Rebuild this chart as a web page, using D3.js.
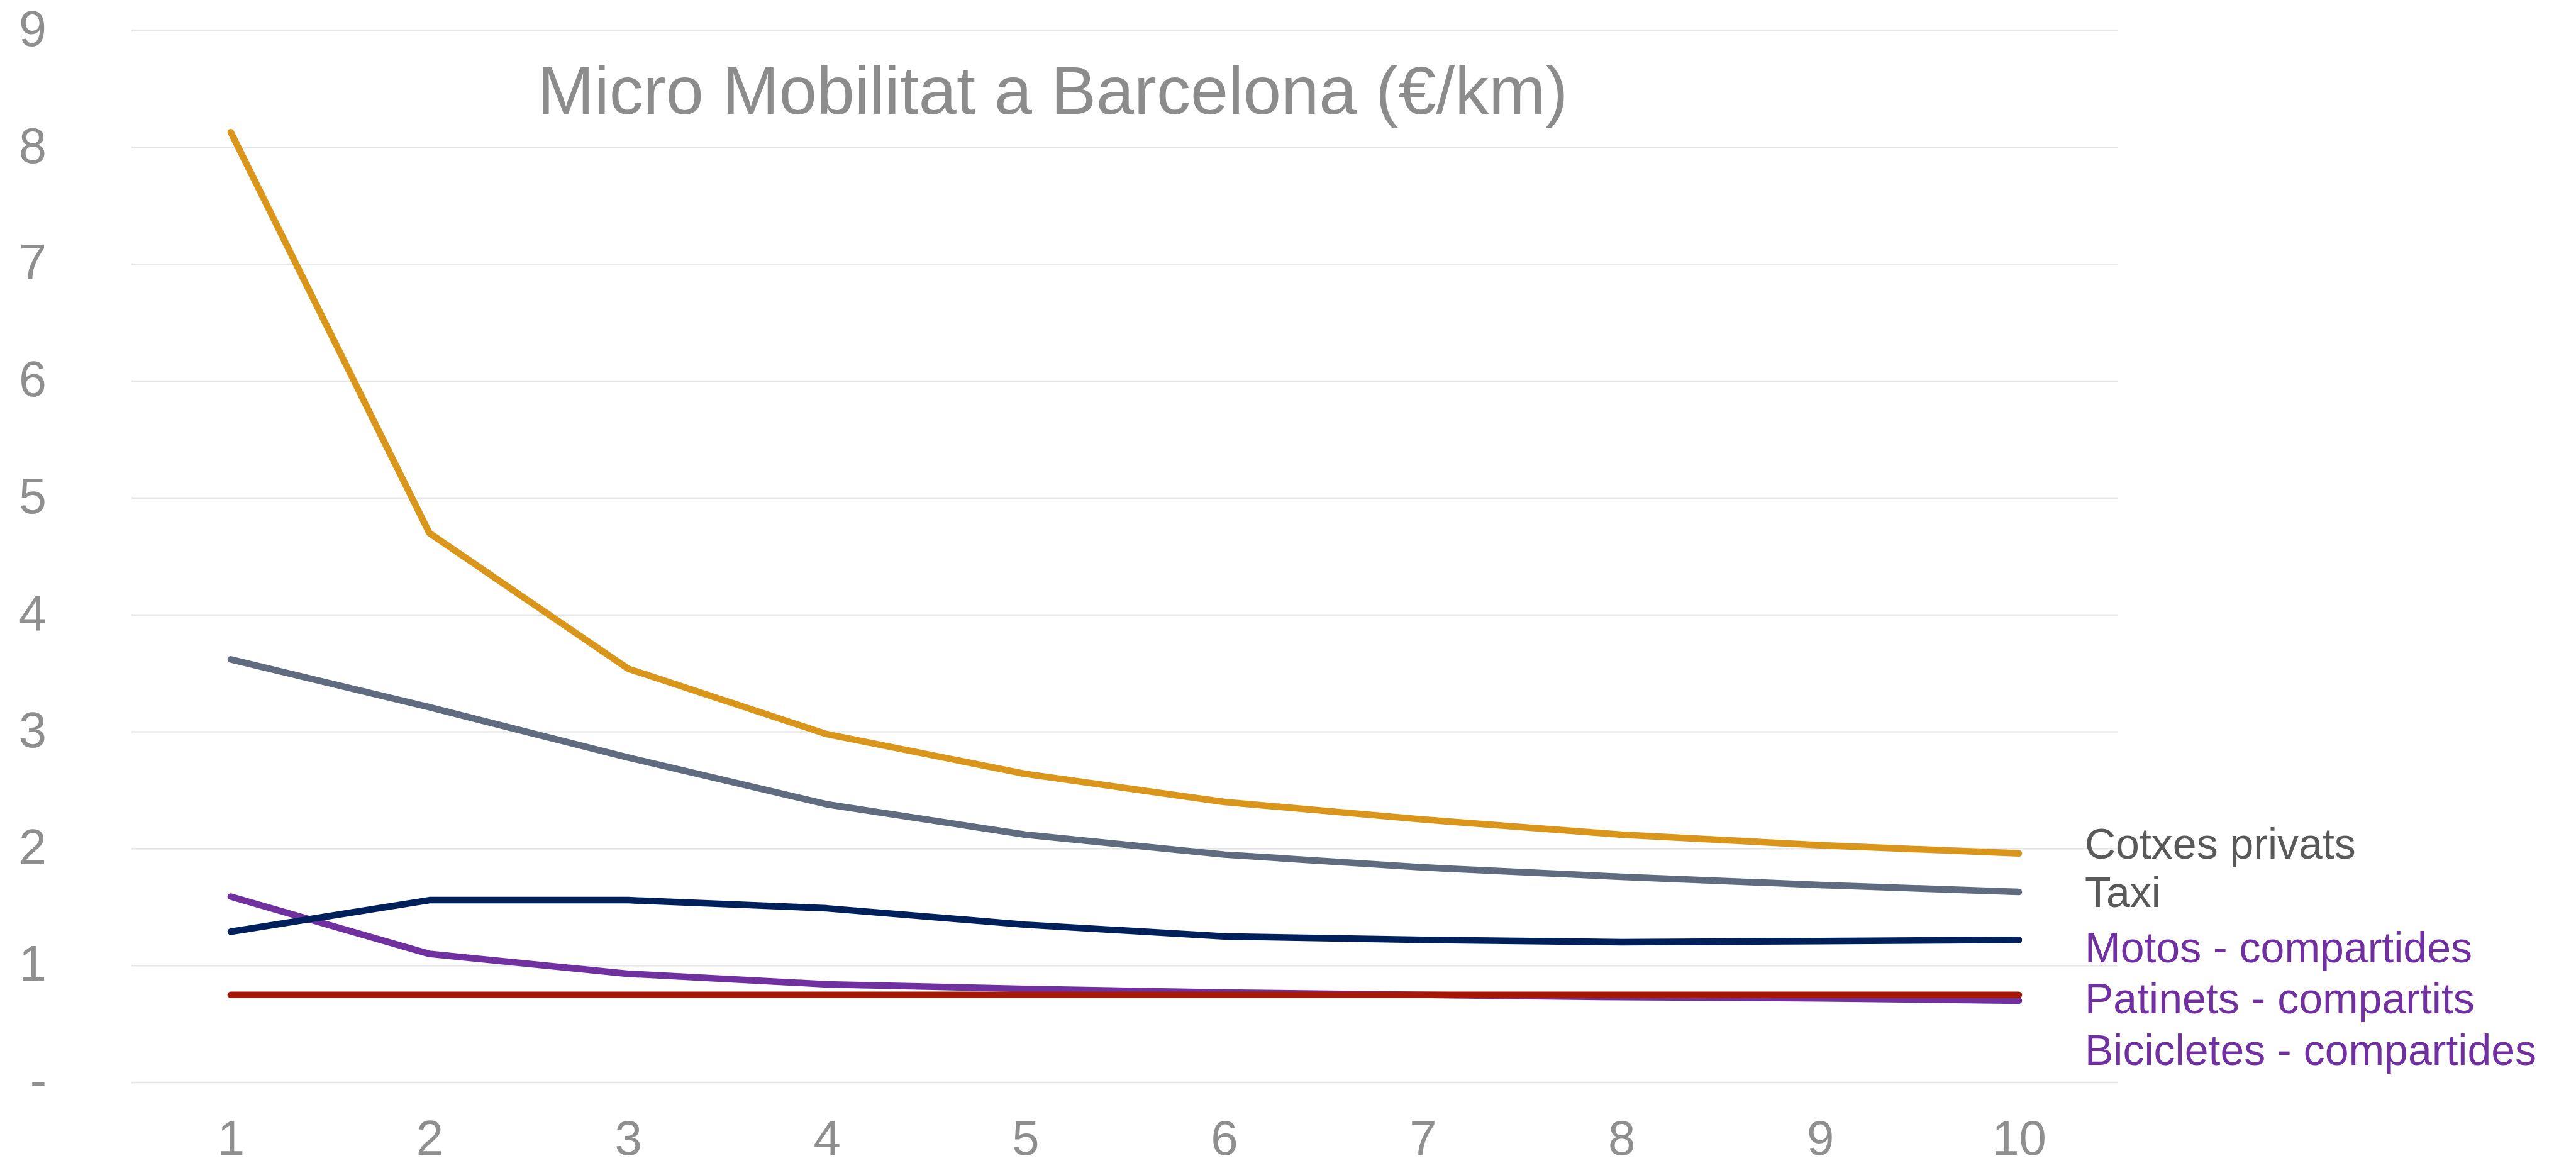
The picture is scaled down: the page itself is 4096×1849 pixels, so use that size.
<!DOCTYPE html>
<html>
<head>
<meta charset="utf-8">
<script src="https://cdn.jsdelivr.net/npm/d3@7"></script>
<style>
  html, body { margin: 0; padding: 0; background: #fff; }
  svg { display: block; font-family: "Liberation Sans", Arial, sans-serif; }
</style>
</head>
<body>
<div id="chart-area"></div>
<script>
// data
var kms = [1, 2, 3, 4, 5, 6, 7, 8, 9, 10];
var cotxes = [8.13, 4.70, 3.54, 2.98, 2.64, 2.40, 2.25, 2.12, 2.03, 1.96];
var taxi = [3.62, 3.21, 2.78, 2.38, 2.12, 1.95, 1.84, 1.76, 1.69, 1.63];
var motos = [1.29, 1.56, 1.56, 1.49, 1.35, 1.25, 1.22, 1.20, 1.21, 1.22];
var patinets = [0.75, 0.75, 0.75, 0.75, 0.75, 0.75, 0.75, 0.75, 0.75, 0.75];
var bicicletes = [1.59, 1.10, 0.93, 0.84, 0.80, 0.77, 0.75, 0.73, 0.72, 0.70];
var yTicks = [0, 1, 2, 3, 4, 5, 6, 7, 8, 9];
var title = "Micro Mobilitat a Barcelona (€/km)";
var legendNames = ["Cotxes privats", "Taxi", "Motos - compartides", "Patinets - compartits", "Bicicletes - compartides"];

var width = 4096, height = 1849;

var svg = d3.select("#chart-area").append("svg")
    .attr("width", width)
    .attr("height", height);

// scales
var x = d3.scalePoint()
    .domain(kms)
    .range([209, 3368])
    .padding(0.5);

var y = d3.scaleLinear()
    .domain([0, 9])
    .range([1721, 48.5]);

// gridlines
svg.append("g")
    .selectAll("line")
    .data(yTicks)
    .enter().append("line")
    .attr("x1", 209)
    .attr("x2", 3368)
    .attr("y1", d => y(d))
    .attr("y2", d => y(d))
    .attr("stroke", "#e6e6e6")
    .attr("stroke-width", 2.5);

// y axis
var yAxis = d3.axisLeft(y)
    .tickValues(yTicks)
    .tickSize(0)
    .tickPadding(0)
    .tickFormat(d => d === 0 ? "-" : d);

var yAxisGroup = svg.append("g")
    .attr("class", "y-axis axis")
    .attr("transform", "translate(74,0)")
    .call(yAxis);
yAxisGroup.select(".domain").remove();
yAxisGroup.selectAll("text")
    .attr("fill", "#8f8f8f")
    .attr("font-size", 79)
    .attr("dy", "0.3em");

// x axis
var xAxis = d3.axisBottom(x)
    .tickSize(0)
    .tickPadding(0);

var xAxisGroup = svg.append("g")
    .attr("class", "x-axis axis")
    .attr("transform", "translate(0,1836)")
    .call(xAxis);
xAxisGroup.select(".domain").remove();
xAxisGroup.selectAll("text")
    .attr("fill", "#8f8f8f")
    .attr("font-size", 78)
    .attr("dy", 0);

// title
svg.append("text")
    .attr("x", 1674)
    .attr("y", 181)
    .attr("text-anchor", "middle")
    .attr("fill", "#8c8c8c")
    .attr("font-size", 108)
    .text(title);

// lines (purple drawn first, it sits under the others)
var series = [
    { values: bicicletes, color: "#7030a0" },
    { values: cotxes, color: "#d9961a" },
    { values: taxi, color: "#5f6b7e" },
    { values: motos, color: "#00205b" },
    { values: patinets, color: "#a51905" }
];

var line = d3.line()
    .x((d, i) => x(kms[i]))
    .y(d => y(d));

svg.append("g")
    .selectAll("path")
    .data(series)
    .enter().append("path")
    .attr("d", d => line(d.values))
    .attr("fill", "none")
    .attr("stroke", d => d.color)
    .attr("stroke-width", 10.5)
    .attr("stroke-linecap", "round")
    .attr("stroke-linejoin", "round");

// labels on the right
var legendColors = ["#595959", "#595959", "#7030a0", "#7030a0", "#7030a0"];
var legendY = [1365, 1442, 1530, 1611, 1693];
svg.append("g")
    .selectAll("text")
    .data(legendNames)
    .enter().append("text")
    .attr("x", 3315)
    .attr("y", (d, i) => legendY[i])
    .attr("fill", (d, i) => legendColors[i])
    .attr("font-size", 68)
    .text(d => d);
</script>
</body>
</html>
